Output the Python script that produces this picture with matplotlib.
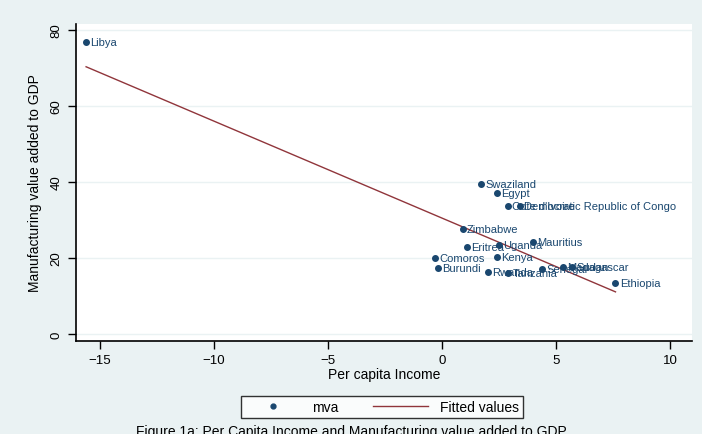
import matplotlib
matplotlib.use("Agg")
import matplotlib.pyplot as plt
from matplotlib.lines import Line2D

plt.rcParams["font.family"] = ["Liberation Sans", "DejaVu Sans"]

# per capita income growth vs manufacturing value added (% of GDP)
countries = [
    "Libya", "Swaziland", "Egypt", "Cote d'Ivoire", "Democratic Republic of Congo",
    "Zimbabwe", "Mauritius", "Eritrea", "Uganda", "Comoros", "Kenya",
    "Burundi", "Rwanda", "Tanzania", "Senegal", "Madagascar", "Sudan", "Ethiopia",
]
income = [-15.6, 1.7, 2.4, 2.9, 3.4, 0.9, 4.0, 1.1, 2.5, -0.3, 2.4,
          -0.2, 2.0, 2.9, 4.4, 5.3, 5.7, 7.6]
mva = [76.8, 39.5, 37.0, 33.8, 33.8, 27.6, 24.2, 23.0, 23.3, 20.0, 20.3,
       17.5, 16.3, 16.0, 17.1, 17.6, 17.6, 13.3]

fit_x = [-15.6, 7.6]
fit_y = [70.3, 11.1]

xticks = [-15, -10, -5, 0, 5, 10]
yticks = [0, 20, 40, 60, 80]

navy = "#1a476f"
maroon = "#90353b"
bg = "#eaf2f3"

fig = plt.figure(figsize=(7.02, 4.35), dpi=100, facecolor=bg)
ax = fig.add_axes([0.108, 0.214, 0.878, 0.729])
ax.set_facecolor("white")

ax.scatter(income, mva, s=16, color=navy, marker="o", zorder=3)
for name, x, y in zip(countries, income, mva):
    ax.annotate(name, (x, y), xytext=(3, 0), textcoords="offset points",
                fontsize=8, color=navy, va="center", ha="left", zorder=4)

ax.plot(fit_x, fit_y, color=maroon, linewidth=1.0, zorder=2)

ax.set_xlim(-16.05, 10.96)
ax.set_ylim(-1.8, 81.6)
ax.set_xticks(xticks)
ax.set_yticks(yticks)
ax.set_xticklabels([str(t).replace("-", "\u2212") for t in xticks], fontsize=9.5)
ax.set_yticklabels([str(t) for t in yticks], fontsize=9.5, rotation=90, va="center")
ax.tick_params(axis="both", direction="out", length=6, width=1, color="black")
ax.yaxis.grid(True, color=bg, linewidth=1)
ax.set_axisbelow(True)

for side in ["top", "right"]:
    ax.spines[side].set_visible(False)
for side in ["left", "bottom"]:
    ax.spines[side].set_linewidth(1.2)

ax.set_xlabel("Per capita Income", fontsize=10, labelpad=1)
ax.set_ylabel("Manufacturing value added to GDP", fontsize=10, labelpad=6)

handles = [
    Line2D([0], [0], marker="o", color=navy, linestyle="none", markersize=3.5),
    Line2D([0], [0], color=maroon, linewidth=1.0),
]
fig.legend(handles, ["mva", "Fitted values"], loc="center",
           bbox_to_anchor=(0.544, 0.062), ncol=2, fontsize=10,
           frameon=True, fancybox=False, edgecolor="black",
           handlelength=4, columnspacing=2.5, borderpad=0.3)

fig.text(0.5, 0.008, "Figure 1a: Per Capita Income and Manufacturing value added to GDP",
         ha="center", va="center", fontsize=10)

plt.savefig("out.png", dpi=100, facecolor=bg)
